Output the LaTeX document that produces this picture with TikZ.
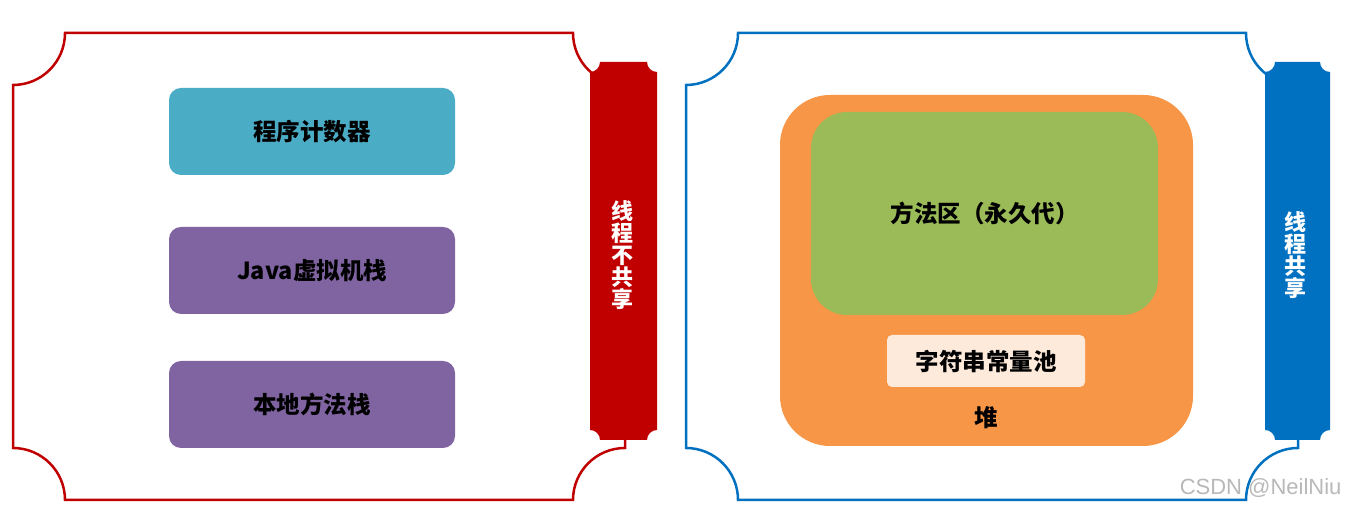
\documentclass[tikz,border=0pt]{standalone}
\usepackage{fontspec}
\newfontfamily\cjk{Noto Sans CJK SC}
\newcommand{\plaque}[6]{% style, x1, ybottom, x2, ytop, r
  \path[#1] ({#2+#6},#5) -- ({#4-#6},#5) arc[start angle=180,end angle=270,radius=#6]
  -- (#4,{#3+#6}) arc[start angle=90,end angle=180,radius=#6]
  -- ({#2+#6},#3) arc[start angle=0,end angle=90,radius=#6]
  -- (#2,{#5-#6}) arc[start angle=270,end angle=360,radius=#6] -- cycle;}
\definecolor{cred}{HTML}{C00000}
\definecolor{cblue}{HTML}{0070C0}
\definecolor{cteal}{HTML}{4BACC6}
\definecolor{cpurp}{HTML}{8064A2}
\definecolor{corange}{HTML}{F79646}
\definecolor{cgreen}{HTML}{9BBB59}
\definecolor{cpale}{HTML}{FDEADA}
\begin{document}
\begin{tikzpicture}[x=1pt,y=1pt,
  lbl/.style={font=\cjk\bfseries\fontsize{23.5}{26}\selectfont,text=black},
  vlbl/.style={font=\cjk\bfseries\fontsize{22}{22}\selectfont,text=white,align=center,inner sep=0pt},
  boxs/.style={rounded corners=12pt,minimum width=286pt,minimum height=87pt,inner sep=0pt}]
\useasboundingbox (0,0) rectangle (1347,510);
% frames (y up: y' = 510 - y)
\plaque{draw=cred,line width=2.5pt}{13}{10}{625}{477}{52}
\plaque{draw=cblue,line width=2.5pt}{686}{10}{1298}{477}{52}
% bars
\plaque{fill=cred}{590}{70}{657}{448}{10}
\plaque{fill=cblue}{1265}{70}{1330}{448}{10}
\node[vlbl] (ns) at (622,255) {线\\程\\不\\共\\享};
\node[vlbl] (sh) at (1295,255) {线\\程\\共\\享};
% left boxes
\node[boxs,fill=cteal,lbl] (pc) at (312,378.5) {程序计数器};
\node[boxs,fill=cpurp,lbl] (jvm) at (312,239.5) {Java虚拟机栈};
\node[boxs,fill=cpurp,lbl] (nat) at (312,105.5) {本地方法栈};
% heap
\node[fill=corange,rounded corners=50pt,minimum width=413pt,minimum height=351pt,inner sep=0pt] (heap) at (986.5,239.5) {};
\node[lbl] (heapl) at (986,92) {堆};
\node[fill=cgreen,rounded corners=36pt,minimum width=347pt,minimum height=203pt,inner sep=0pt,lbl] (meth) at (984.5,296.5) {方法区（永久代）};
\node[fill=cpale,rounded corners=5pt,minimum width=198pt,minimum height=52pt,inner sep=0pt,lbl] (str) at (986,149) {字符串常量池};
\node[font=\fontspec{Liberation Sans}\fontsize{22}{26}\selectfont,text=black!28,anchor=east] (wm) at (1345,22) {CSDN @NeilNiu};
\end{tikzpicture}
\end{document}
